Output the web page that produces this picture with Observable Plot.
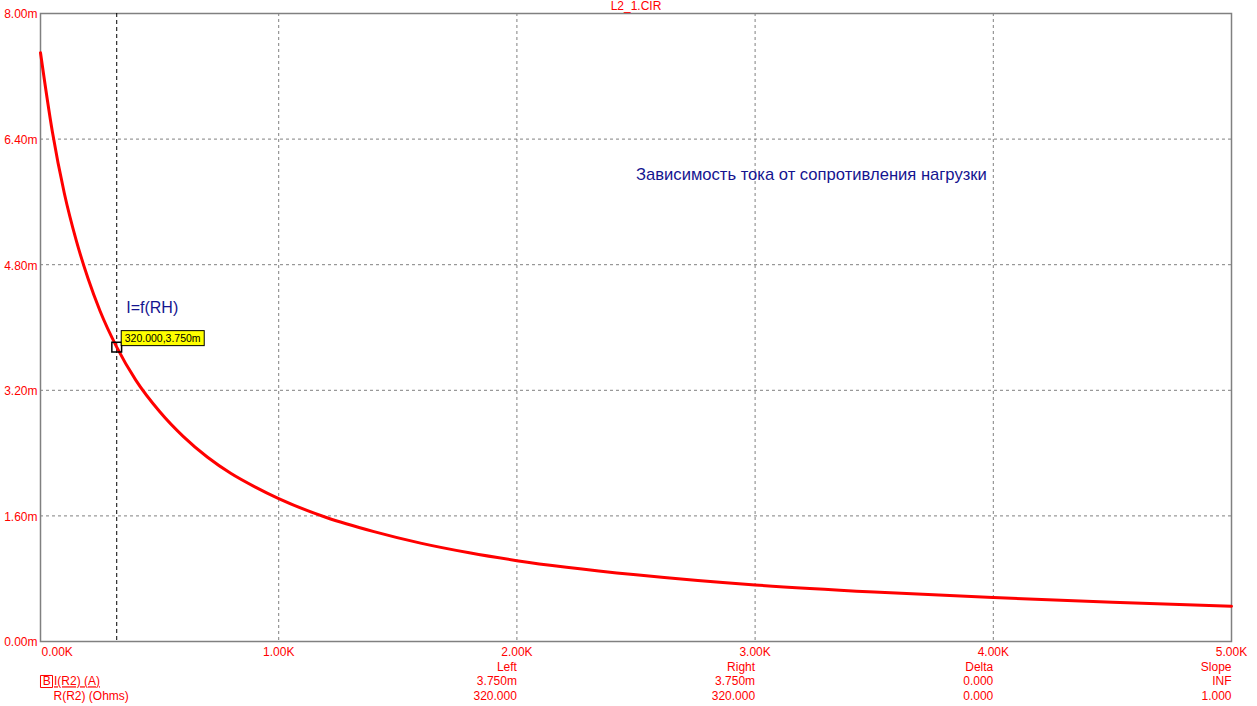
<!DOCTYPE html>
<html>
<head>
<meta charset="utf-8">
<script src="https://cdn.jsdelivr.net/npm/d3@7"></script>
<script src="https://cdn.jsdelivr.net/npm/@observablehq/plot@0.6"></script>
<style>
  html, body { margin: 0; padding: 0; background: #fff; }
  #chart svg { display: block; }
</style>
</head>
<body>
<div id="chart"></div>
<script>
// Load resistance R(R2), Ohms
const resistance = [0, 50, 100, 150, 200, 250, 320, 400, 500, 600, 700, 800, 900, 1000, 1200, 1400, 1600, 1800, 2000, 2500, 3000, 3500, 4000, 4500, 5000];
// Current I(R2), mA
const current = [7.50, 6.49, 5.71, 5.11, 4.62, 4.21, 3.75, 3.33, 2.93, 2.61, 2.35, 2.14, 1.97, 1.82, 1.58, 1.40, 1.25, 1.13, 1.03, 0.85, 0.72, 0.63, 0.56, 0.50, 0.45];

const xTicks = [0, 1000, 2000, 3000, 4000, 5000];
const xTickLabels = ["0.00K", "1.00K", "2.00K", "3.00K", "4.00K", "5.00K"];
const yTicks = [0, 1.6, 3.2, 4.8, 6.4, 8.0];
const yTickLabels = ["0.00m", "1.60m", "3.20m", "4.80m", "6.40m", "8.00m"];

const cursorX = 320;
const cursorY = 3.75;
const cursorLabel = "320.000,3.750m";

const tableCols = [2000, 3000, 4000, 5000];
const tableHead = ["Left", "Right", "Delta", "Slope"];
const tableRow1 = ["3.750m", "3.750m", "0.000", "INF"];
const tableRow2 = ["320.000", "320.000", "0.000", "1.000"];

const title = "L2_1.CIR";
const note = "Зависимость тока от сопротивления нагрузки";
const curveLabel = "I=f(RH)";
const legend1 = "I(R2) (A)";
const legend2 = "R(R2) (Ohms)";

const data = resistance.map((r, i) => ({r, i: current[i]}));
const red = "#ff0000";
const navy = "#141490";
const grid = "#808080";
const fs = 12;
const mid = "middle";

const chart = Plot.plot({
  width: 1257,
  height: 706,
  marginLeft: 40,
  marginTop: 13,
  marginRight: 26,
  marginBottom: 65,
  x: {domain: [0, 5000], axis: null},
  y: {domain: [0, 8], axis: null},
  style: {fontFamily: "'Liberation Sans', Arial, sans-serif", fontSize: "12px", background: "#fff", overflow: "visible"},
  marks: [
    // grid
    Plot.ruleX(xTicks.slice(1, -1), {stroke: grid, strokeDasharray: "3,3", strokeWidth: 1}),
    Plot.ruleY(yTicks.slice(1, -1), {stroke: grid, strokeDasharray: "3,3", strokeWidth: 1}),
    Plot.frame({stroke: grid, strokeWidth: 1.5}),
    // cursor
    Plot.ruleX([cursorX], {stroke: "#000", strokeDasharray: "4,3", strokeWidth: 1}),
    // curve
    Plot.line(data, {x: "r", y: "i", stroke: red, strokeWidth: 3, curve: "monotone-x"}),
    // cursor marker and label
    Plot.dot([{r: cursorX, i: cursorY}], {x: "r", y: "i", symbol: "square", r: 5.5, stroke: "#000", strokeWidth: 1.5, fill: "none"}),
    Plot.rect([{r: cursorX, i: cursorY}], {x1: "r", x2: "r", y1: "i", y2: "i", insetLeft: 5, insetRight: -88, insetTop: -16, insetBottom: 1, fill: "#ffff00", stroke: "#000", strokeWidth: 1}),
    Plot.text([cursorLabel], {x: cursorX, y: cursorY, dx: 8, dy: -8.5, textAnchor: "start", lineAnchor: mid, fill: "#000", fontSize: 10.5}),
    // annotations
    Plot.text([note], {x: 2500, y: 5.95, textAnchor: "start", lineAnchor: mid, fill: navy, fontSize: 16.6}),
    Plot.text([curveLabel], {x: 360, y: 4.25, textAnchor: "start", lineAnchor: mid, fill: navy, fontSize: 16}),
    // y tick labels
    Plot.text(yTicks, {y: d => d, text: (d, i) => yTickLabels[i], frameAnchor: "left", textAnchor: "end", lineAnchor: mid, dx: -3, dy: 1, fill: red, fontSize: fs}),
    // x tick labels
    Plot.text(xTicks.slice(0, 1), {x: d => d, text: (d, i) => xTickLabels[i], frameAnchor: "bottom", textAnchor: "start", lineAnchor: mid, dx: 1, dy: 11, fill: red, fontSize: fs}),
    Plot.text(xTicks.slice(1), {x: d => d, text: (d, i) => xTickLabels[i + 1], frameAnchor: "bottom", textAnchor: "middle", lineAnchor: mid, dy: 11, fill: red, fontSize: fs}),
    // title
    Plot.text([title], {frameAnchor: "top", textAnchor: "middle", lineAnchor: mid, dy: -7, fill: red, fontSize: fs}),
    // cursor table
    Plot.text(tableCols, {x: d => d, text: (d, i) => tableHead[i], frameAnchor: "bottom", textAnchor: "end", lineAnchor: mid, dy: 25.5, fill: red, fontSize: fs}),
    Plot.text(tableCols, {x: d => d, text: (d, i) => tableRow1[i], frameAnchor: "bottom", textAnchor: "end", lineAnchor: mid, dy: 40, fill: red, fontSize: fs}),
    Plot.text(tableCols, {x: d => d, text: (d, i) => tableRow2[i], frameAnchor: "bottom", textAnchor: "end", lineAnchor: mid, dy: 54.5, fill: red, fontSize: fs}),
    // legend
    Plot.dot([0], {frameAnchor: "bottom-left", dx: 6, dy: 40, symbol: "square", r: 6.8, stroke: red, strokeWidth: 1, fill: "none"}),
    Plot.text(["B"], {frameAnchor: "bottom-left", textAnchor: "middle", lineAnchor: mid, dx: 6.3, dy: 40, fill: red, fontSize: fs}),
    Plot.text([legend1], {frameAnchor: "bottom-left", textAnchor: "start", lineAnchor: mid, dx: 13.5, dy: 40, fill: red, fontSize: fs}),
    Plot.text([legend2], {frameAnchor: "bottom-left", textAnchor: "start", lineAnchor: mid, dx: 13, dy: 54.5, fill: red, fontSize: fs})
  ]
});

d3.select(chart).selectAll("text").filter(function() { return this.textContent === legend1; })
  .style("text-decoration", "underline");

document.getElementById("chart").appendChild(chart);
</script>
</body>
</html>
